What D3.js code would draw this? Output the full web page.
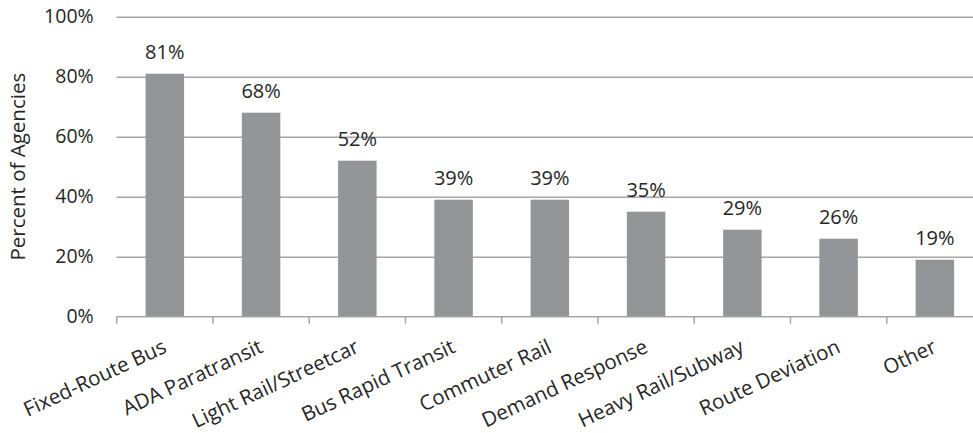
<!DOCTYPE html>
<html>
<head>
<meta charset="utf-8">
<script src="https://cdn.jsdelivr.net/npm/d3@7"></script>
<style>
  html, body { margin: 0; padding: 0; background: #fff; }
  svg { display: block; }
  text { font-family: "Open Sans", sans-serif; fill: #262626; }
</style>
</head>
<body>
<svg id="chart" width="973" height="433"></svg>
<script>
// Share of agencies by mode
const categories = [
  "Fixed-Route Bus", "ADA Paratransit", "Light Rail/Streetcar",
  "Bus Rapid Transit", "Commuter Rail", "Demand Response",
  "Heavy Rail/Subway", "Route Deviation", "Other"
];
const percentValues = [81, 68, 52, 39, 39, 35, 29, 26, 19];
const yTickValues = [0, 20, 40, 60, 80, 100];
const yAxisTitle = "Percent of Agencies";

const svg = d3.select("#chart");
const plot = { left: 116.7, right: 983, top: 16.7, bottom: 316.7 };
const gridColor = "#a6a6a6";

const x = d3.scaleBand()
  .domain(categories)
  .range([plot.left, plot.right])
  .paddingInner(0.6)
  .paddingOuter(0.3);

const y = d3.scaleLinear()
  .domain([0, 100])
  .range([plot.bottom, plot.top]);

// Horizontal gridlines and left tick labels
const yAxis = d3.axisLeft(y)
  .tickValues(yTickValues)
  .tickSize(-(plot.right - plot.left))
  .tickPadding(23)
  .tickFormat(d => d + "%");

const gy = svg.append("g")
  .attr("transform", `translate(${plot.left},0)`)
  .call(yAxis);
gy.select(".domain").remove();
gy.selectAll(".tick line")
  .attr("stroke", gridColor)
  .attr("stroke-width", 1.5)
  .filter(d => d === 0).remove();
gy.selectAll(".tick text")
  .attr("font-size", 19.5)
  .attr("font-family", "'Open Sans', sans-serif")
  .attr("fill", "#262626");

// Bars
svg.append("g")
  .selectAll("rect")
  .data(percentValues)
  .join("rect")
  .attr("x", (d, i) => x(categories[i]))
  .attr("y", d => y(d))
  .attr("width", x.bandwidth())
  .attr("height", d => y(0) - y(d))
  .attr("fill", "#939598");

// Value labels above bars
svg.append("g")
  .selectAll("text")
  .data(percentValues)
  .join("text")
  .attr("x", (d, i) => x(categories[i]) + x.bandwidth() / 2)
  .attr("y", d => y(d) - 15)
  .attr("text-anchor", "middle")
  .attr("font-size", 20)
  .text(d => d + "%");

// Category axis with boundary ticks
const step = x.step();
const boundaries = d3.range(categories.length + 1).map(i => plot.left + i * step);
const gx = svg.append("g");
gx.append("line")
  .attr("x1", plot.left).attr("x2", plot.right)
  .attr("y1", y(0)).attr("y2", y(0))
  .attr("stroke", gridColor)
  .attr("stroke-width", 1.5);
gx.selectAll("line.tick")
  .data(boundaries)
  .join("line")
  .attr("class", "tick")
  .attr("x1", d => d).attr("x2", d => d)
  .attr("y1", y(0)).attr("y2", y(0) + 7)
  .attr("stroke", gridColor)
  .attr("stroke-width", 1.5);

gx.selectAll("text")
  .data(categories)
  .join("text")
  .attr("text-anchor", "end")
  .attr("font-size", 20.5)
  .attr("transform", d => `translate(${x(d) + x.bandwidth() / 2 + 3},${y(0) + 35}) rotate(-25)`)
  .text(d => d);

// Y axis title
svg.append("text")
  .attr("transform", `translate(25,${(plot.top + plot.bottom) / 2}) rotate(-90)`)
  .attr("text-anchor", "middle")
  .attr("font-size", 20.5)
  .text(yAxisTitle);
</script>
</body>
</html>
